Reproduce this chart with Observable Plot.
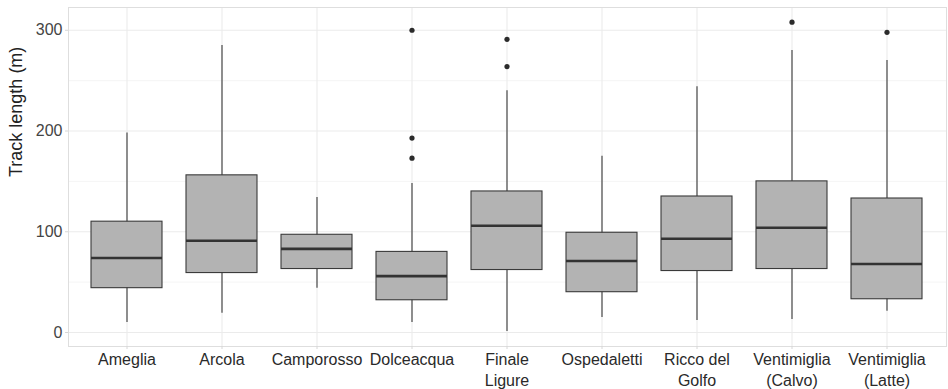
<!DOCTYPE html>
<html>
<head>
<meta charset="utf-8">
<script src="https://cdn.jsdelivr.net/npm/d3@7"></script>
<script src="https://cdn.jsdelivr.net/npm/@observablehq/plot@0.6"></script>
<style>
  html, body { margin: 0; padding: 0; background: #fff; }
  #chart { width: 948px; height: 389px; }
</style>
</head>
<body>
<div id="chart"></div>
<script>
// Track length summary per site (metres): whiskers, quartiles, median
const sites = ["Ameglia", "Arcola", "Camporosso", "Dolceacqua", "Finale Ligure",
  "Ospedaletti", "Ricco del Golfo", "Ventimiglia (Calvo)", "Ventimiglia (Latte)"];
const tickLabels = ["Ameglia", "Arcola", "Camporosso", "Dolceacqua", "Finale\nLigure",
  "Ospedaletti", "Ricco del\nGolfo", "Ventimiglia\n(Calvo)", "Ventimiglia\n(Latte)"];
const whiskerLow  = [10, 19, 44, 10, 1, 15, 12, 13, 21];
const q1          = [44, 59, 63, 32, 62, 40, 61, 63, 33];
const median      = [74, 91, 83, 56, 106, 71, 93, 104, 68];
const q3          = [110, 156, 97, 80, 140, 99, 135, 150, 133];
const whiskerHigh = [198, 285, 134, 148, 240, 175, 244, 280, 270];

// Points beyond the whiskers
const outlierSites  = ["Dolceacqua", "Dolceacqua", "Dolceacqua", "Finale Ligure",
  "Finale Ligure", "Ventimiglia (Calvo)", "Ventimiglia (Latte)"];
const outlierValues = [300, 193, 173, 291, 264, 308, 298];

const yMajor = [0, 100, 200, 300];
const yMinor = [50, 150, 250];

const labelOf = new Map(sites.map((s, i) => [s, tickLabels[i]]));

const chart = Plot.plot({
  width: 948,
  height: 389,
  marginTop: 7,
  marginBottom: 43,
  marginLeft: 68,
  marginRight: 2,
  style: { fontFamily: "'Liberation Sans', Arial, sans-serif", fontSize: "16px", background: "#fff", overflow: "visible" },
  x: { type: "band", domain: sites, paddingInner: 0.25, paddingOuter: 0.225 },
  y: { domain: [-13.9, 322.6] },
  marks: [
    Plot.gridY(yMinor, { stroke: "#f2f2f2", strokeOpacity: 1, strokeWidth: 0.8 }),
    Plot.gridY(yMajor, { stroke: "#ebebeb", strokeOpacity: 1, strokeWidth: 1.1 }),
    Plot.gridX(sites, { stroke: "#ebebeb", strokeOpacity: 1, strokeWidth: 1.1 }),
    Plot.frame({ stroke: "#dedede" }),
    Plot.axisY(yMajor, {
      tickSize: 3, tickPadding: 3, stroke: "#d6d6d6", fill: "#444",
      fontSize: 16, label: null
    }),
    Plot.text(["Track length (m)"], {
      frameAnchor: "left", dx: -52, rotate: -90, fontSize: 18, fill: "#222",
      lineAnchor: "middle"
    }),
    Plot.axisX(sites, {
      tickSize: 3, tickPadding: 0, stroke: "#d6d6d6", fill: "#2a2a2a",
      fontSize: 16, lineHeight: 1.33,
      tickFormat: (d) => labelOf.get(d), label: null
    }),
    Plot.ruleX(sites, { x: sites, y1: whiskerLow, y2: whiskerHigh, stroke: "#3a3a3a", strokeWidth: 1.1 }),
    Plot.barY(sites, { x: sites, y1: q1, y2: q3, fill: "#b3b3b3", stroke: "#3a3a3a", strokeWidth: 1.1 }),
    Plot.tickY(sites, { x: sites, y: median, stroke: "#333", strokeWidth: 2.6 }),
    Plot.dot(outlierValues, { x: outlierSites, y: outlierValues, r: 2.6, fill: "#2b2b2b", stroke: "none" })
  ]
});

document.getElementById("chart").appendChild(chart);
</script>
</body>
</html>
